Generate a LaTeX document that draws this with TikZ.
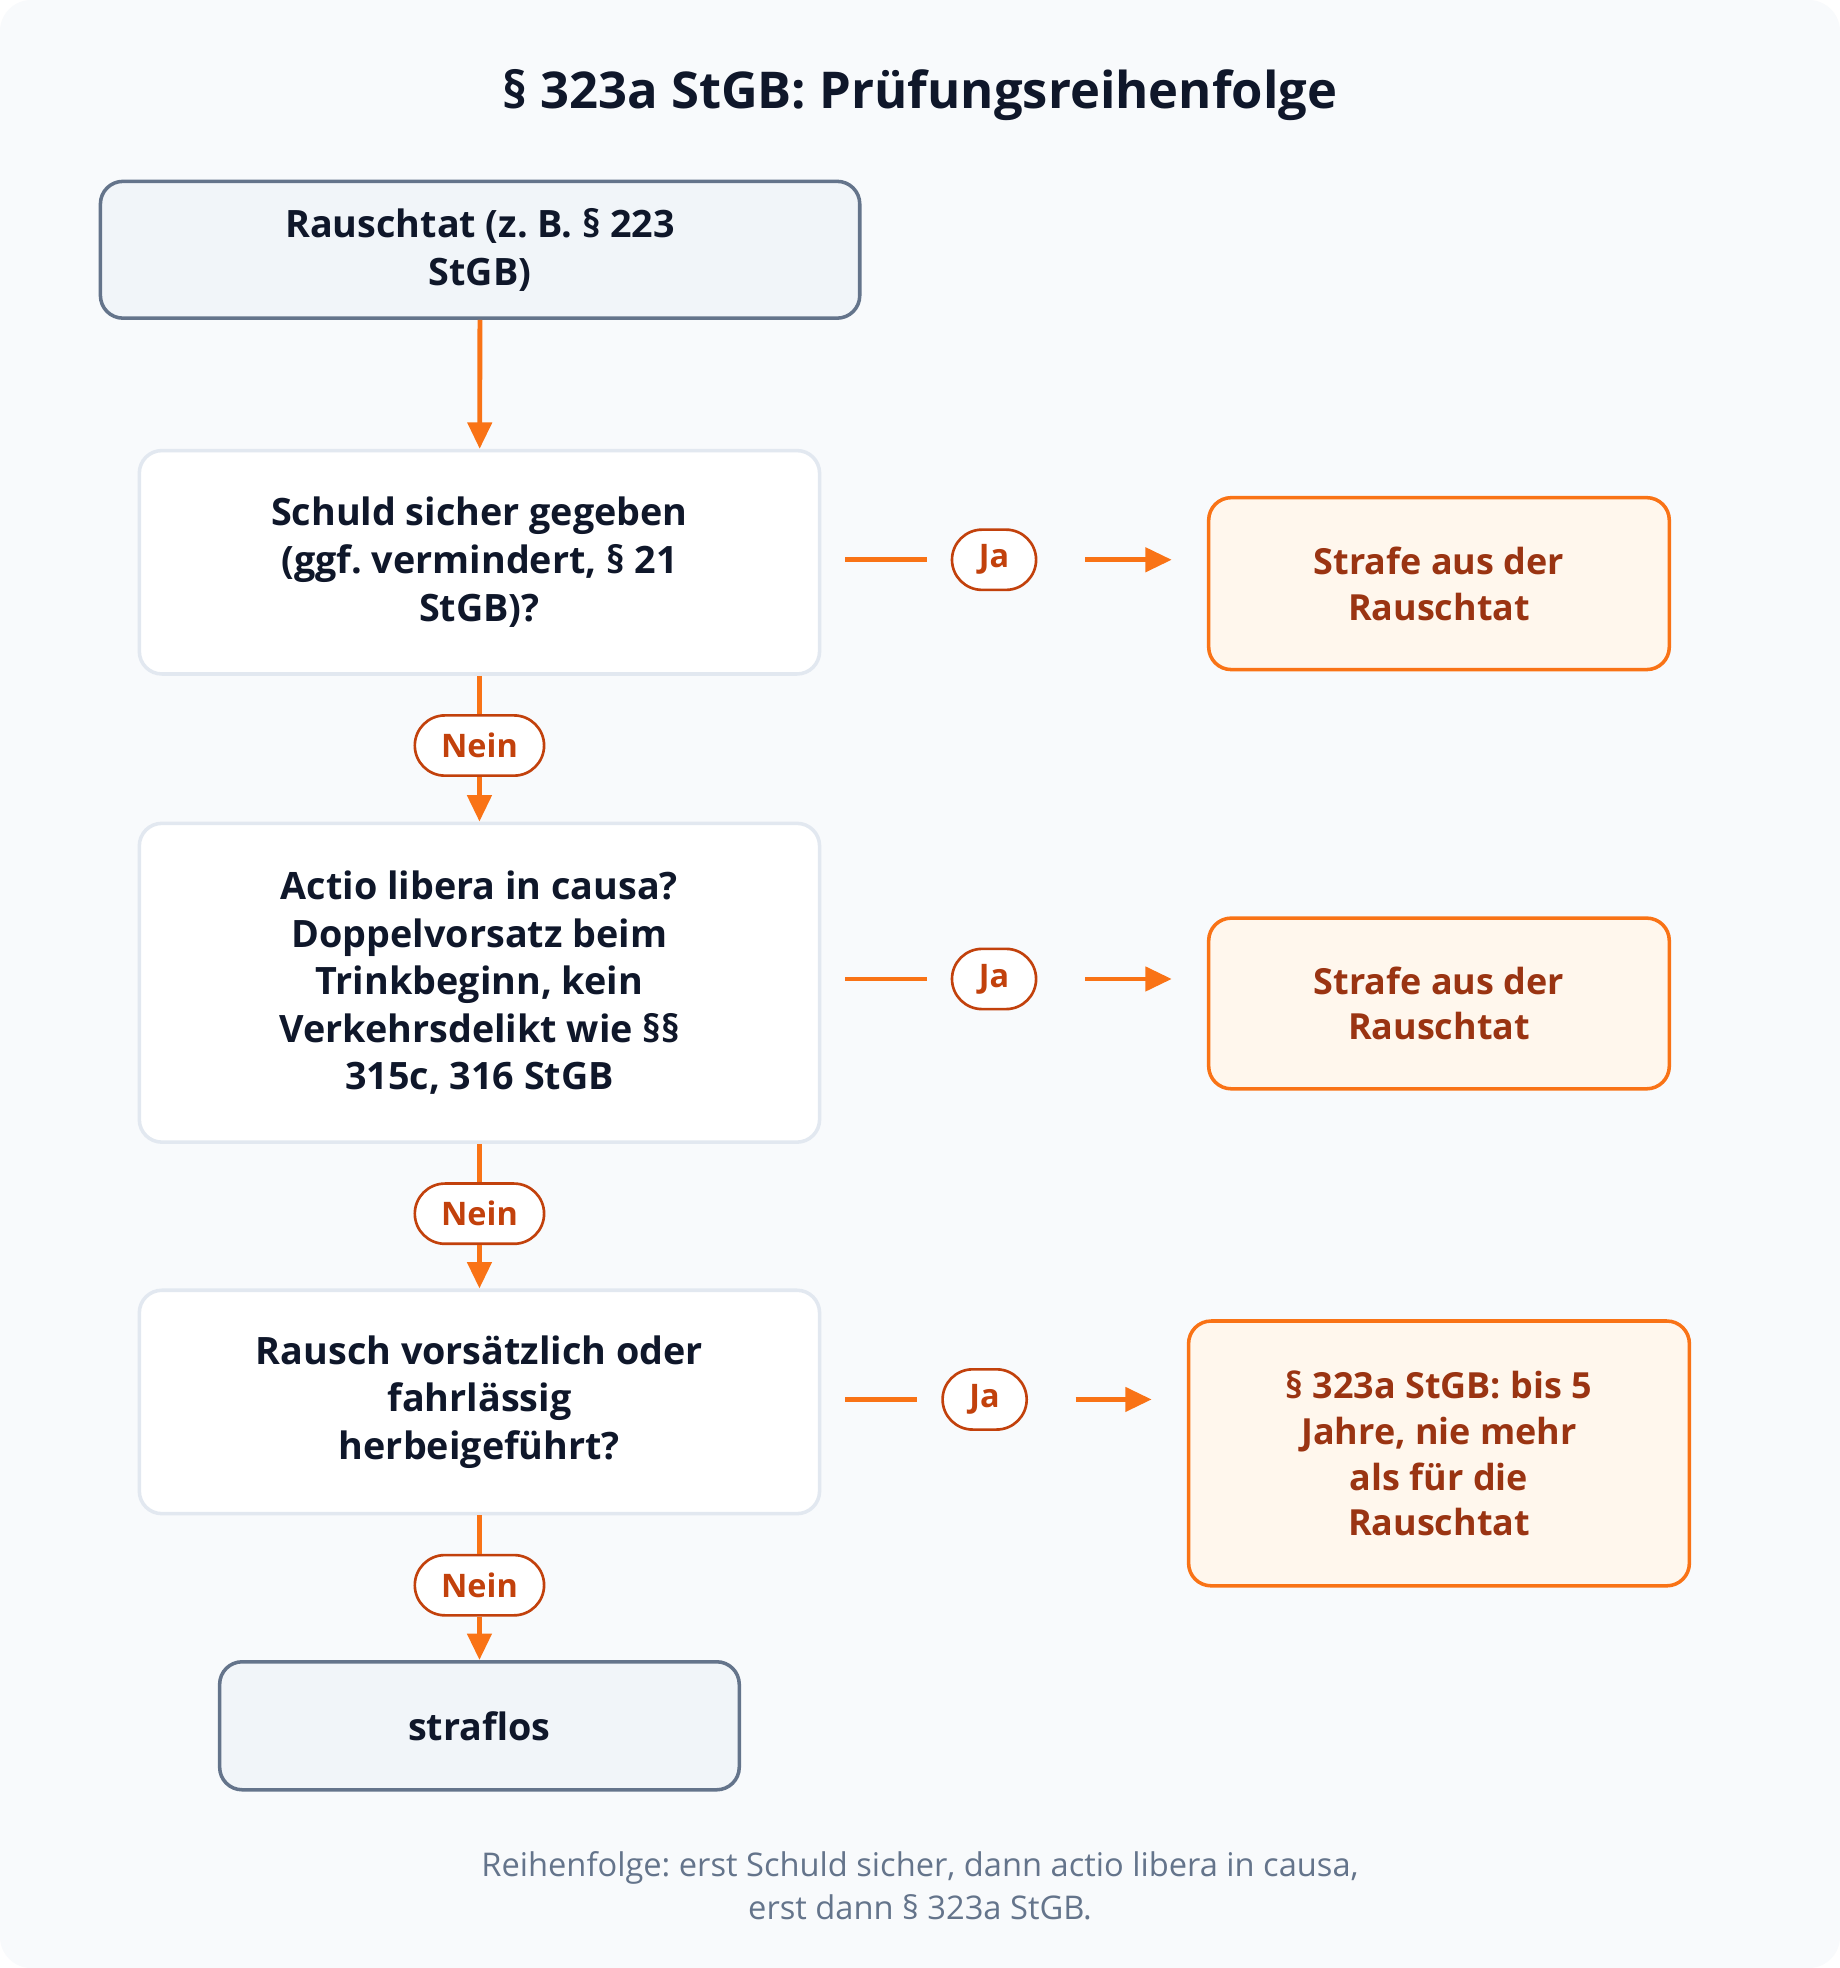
\documentclass[tikz,border=0pt]{standalone}
\usepackage{fontspec}
\setmainfont{Open Sans}
\usetikzlibrary{arrows.meta}
\frenchspacing
\definecolor{sfondo}{HTML}{F8FAFC}
\definecolor{testo}{HTML}{0F172A}
\definecolor{ardesia}{HTML}{64748B}
\definecolor{ardesiachiaro}{HTML}{F1F5F9}
\definecolor{bordo}{HTML}{E2E8F0}
\definecolor{arancio}{HTML}{F97316}
\definecolor{aranciochiaro}{HTML}{FFF7ED}
\definecolor{ruggine}{HTML}{C2410C}
\definecolor{bruno}{HTML}{9A3412}
\begin{document}
\begin{tikzpicture}[every node/.style={align=center, text=testo, font=\bfseries\fontsize{17.1}{21.6}\selectfont},
    grigio/.style={draw=ardesia, fill=ardesiachiaro, line width=1.6pt, rounded corners=0.36cm},
    domanda/.style={draw=bordo, fill=white, line width=1.6pt, rounded corners=0.36cm},
    esito/.style={draw=arancio, fill=aranciochiaro, line width=1.6pt, rounded corners=0.36cm, text=bruno, font=\bfseries\fontsize{16.3}{20.8}\selectfont},
    etichetta/.style={draw=ruggine, fill=white, line width=1.2pt, rounded corners=0.48cm, text=ruggine, minimum height=0.96cm, font=\bfseries\fontsize{14.7}{18}\selectfont},
    freccia/.style={draw=arancio, line width=2.2pt, -{Triangle[length=0.42cm, width=0.38cm]}},
    linea/.style={draw=arancio, line width=2.2pt}]
            % Sfondo
            \useasboundingbox (0,0) rectangle (29.32,-31.36);
            \fill[white] (0,0) rectangle (29.32,-31.36);
            \fill[sfondo, rounded corners=0.5cm] (0,0) rectangle (29.32,-31.36);

            % Titolo
            \node (T) at (14.66,-1.52) [font=\bfseries\fontsize{23}{27}\selectfont] {§ 323a StGB: Prüfungsreihenfolge};

            % Colonna sinistra
            \node (A) at (7.65,-3.98) [grigio, minimum width=12.1cm, minimum height=2.18cm] {Rauschtat (z. B. § 223\\StGB)};
            \node (B) at (7.64,-8.96) [domanda, minimum width=10.84cm, minimum height=3.56cm] {Schuld sicher gegeben\\(ggf. vermindert, § 21\\StGB)?};
            \node (C) at (7.64,-15.66) [domanda, minimum width=10.84cm, minimum height=5.08cm] {Actio libera in causa?\\Doppelvorsatz beim\\Trinkbeginn, kein\\Verkehrsdelikt wie §§\\315c, 316 StGB};
            \node (D) at (7.64,-22.34) [domanda, minimum width=10.84cm, minimum height=3.56cm] {Rausch vorsätzlich oder\\fahrlässig\\herbeigeführt?};
            \node (E) at (7.64,-27.5) [grigio, minimum width=8.28cm, minimum height=2.04cm] {straflos};

            % Esiti
            \node (R1) at (22.93,-9.3) [esito, minimum width=7.34cm, minimum height=2.74cm] {Strafe aus der\\Rauschtat};
            \node (R2) at (22.93,-15.99) [esito, minimum width=7.34cm, minimum height=2.72cm] {Strafe aus der\\Rauschtat};
            \node (R3) at (22.93,-23.16) [esito, minimum width=7.98cm, minimum height=4.22cm] {§ 323a StGB: bis 5\\Jahre, nie mehr\\als für die\\Rauschtat};

            % Etichette
            \node (N1) at (7.64,-11.88) [etichetta, minimum width=2.06cm] {Nein};
            \node (N2) at (7.64,-19.34) [etichetta, minimum width=2.06cm] {Nein};
            \node (N3) at (7.64,-25.26) [etichetta, minimum width=2.06cm] {Nein};
            \node (J1) at (15.84,-8.92) [etichetta, minimum width=1.34cm] {Ja};
            \node (J2) at (15.84,-15.6) [etichetta, minimum width=1.34cm] {Ja};
            \node (J3) at (15.69,-22.3) [etichetta, minimum width=1.34cm] {Ja};

            % Nota
            \node (F) at (14.66,-30.05) [text=ardesia, font=\fontsize{14.8}{19.8}\selectfont] {Reihenfolge: erst Schuld sicher, dann actio libera in causa,\\erst dann § 323a StGB.};

            % Collegamenti
            \draw[freccia] (A) -- (B);
            \draw[linea] (B) -- (N1);
            \draw[freccia] (N1) -- (C);
            \draw[linea] (C) -- (N2);
            \draw[freccia] (N2) -- (D);
            \draw[linea] (D) -- (N3);
            \draw[freccia] (N3) -- (E);
            \draw[linea, shorten <=0.38cm, shorten >=0.38cm] (B.east |- J1) -- (J1);
            \draw[linea, shorten <=0.38cm, shorten >=0.38cm] (C.east |- J2) -- (J2);
            \draw[linea, shorten <=0.38cm, shorten >=0.38cm] (D.east |- J3) -- (J3);
            \draw[freccia, shorten <=0.76cm, shorten >=0.56cm] (J1) -- (J1 -| R1.west);
            \draw[freccia, shorten <=0.76cm, shorten >=0.56cm] (J2) -- (J2 -| R2.west);
            \draw[freccia, shorten <=0.76cm, shorten >=0.56cm] (J3) -- (J3 -| R3.west);
        \end{tikzpicture}
\end{document}
